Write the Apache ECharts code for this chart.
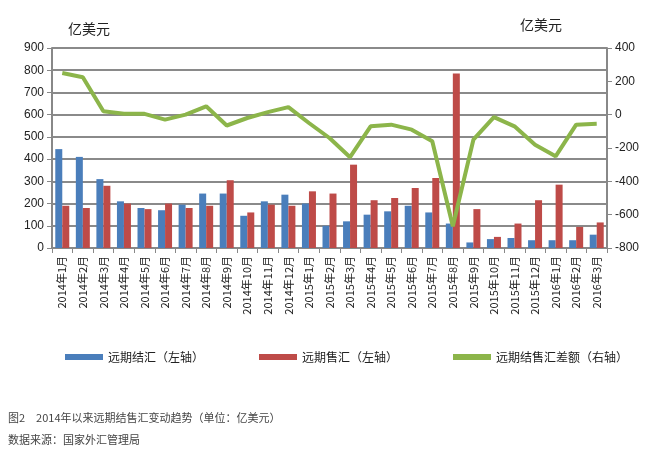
<!DOCTYPE html><html><head><meta charset="utf-8"><script src="https://cdn.jsdelivr.net/npm/echarts@6/dist/echarts.min.js"></script></head><body style="margin:0;background:#fff"><div id="c" style="width:672px;height:457px"></div><script>
const categories=[];for(let y=2014;y<=2016;y++)for(let m=1;m<=12;m++){if(y===2016&&m>3)break;categories.push(y+'年'+m+'月');}
const jiehui=[445,410,310,210,180,170,195,245,245,145,210,240,200,100,120,150,165,190,160,110,25,40,45,35,35,35,60];
const shouhui=[190,180,280,200,175,200,180,190,305,160,195,190,255,245,375,215,225,270,315,785,175,50,110,215,285,95,115];
const chae=[250,225,20,5,5,-30,0,50,-65,-20,15,45,-50,-140,-255,-70,-60,-90,-160,-670,-150,-15,-70,-180,-250,-60,-55];
const f='"Noto Sans CJK SC", sans-serif';
const ch=echarts.init(document.getElementById('c'));
ch.setOption({animation:false,
grid:{left:52,right:65,top:48,bottom:209},
legend:{top:346,left:60,width:640,itemGap:55,itemWidth:38,itemHeight:6,icon:'rect',textStyle:{fontFamily:f,fontSize:12,color:'#222'},
data:['远期结汇（左轴）','远期售汇（左轴）','远期结售汇差额（右轴）']},
graphic:[{type:'text',left:68,top:22,style:{text:'亿美元',font:'14px '+f,fill:'#222'}},
{type:'text',left:520,top:18,style:{text:'亿美元',font:'14px '+f,fill:'#222'}},
{type:'text',left:8,top:412,style:{text:'图2　2014年以来远期结售汇变动趋势（单位：亿美元）',font:'11px '+f,fill:'#444'}},
{type:'text',left:8,top:434,style:{text:'数据来源：国家外汇管理局',font:'11px '+f,fill:'#444'}}],
xAxis:{type:'category',data:categories,axisLabel:{rotate:90,fontFamily:f,fontSize:11,color:'#222',interval:0},axisLine:{lineStyle:{color:'#888',width:2}},axisTick:{show:true,lineStyle:{color:'#888'}}},
yAxis:[{type:'value',min:0,max:900,interval:100,axisLabel:{fontSize:12,color:'#222',fontFamily:'Liberation Sans'},splitLine:{lineStyle:{color:'#8a8a8a',width:2}},axisLine:{show:true,lineStyle:{color:'#888',width:2}},axisTick:{show:true}},
{type:'value',min:-800,max:400,interval:200,axisLabel:{fontSize:12,color:'#222',fontFamily:'Liberation Sans'},splitLine:{show:false},axisLine:{show:true,lineStyle:{color:'#888',width:2}},axisTick:{show:true}}],
series:[{name:'远期结汇（左轴）',type:'bar',data:jiehui,itemStyle:{color:'#4a7ebb'},barWidth:7,barGap:'0%'},
{name:'远期售汇（左轴）',type:'bar',data:shouhui,itemStyle:{color:'#be4b48'},barWidth:7},
{name:'远期结售汇差额（右轴）',type:'line',yAxisIndex:1,data:chae,symbol:'none',lineStyle:{color:'#8cb54a',width:4},itemStyle:{color:'#8cb54a'}}]});
</script></body></html>
